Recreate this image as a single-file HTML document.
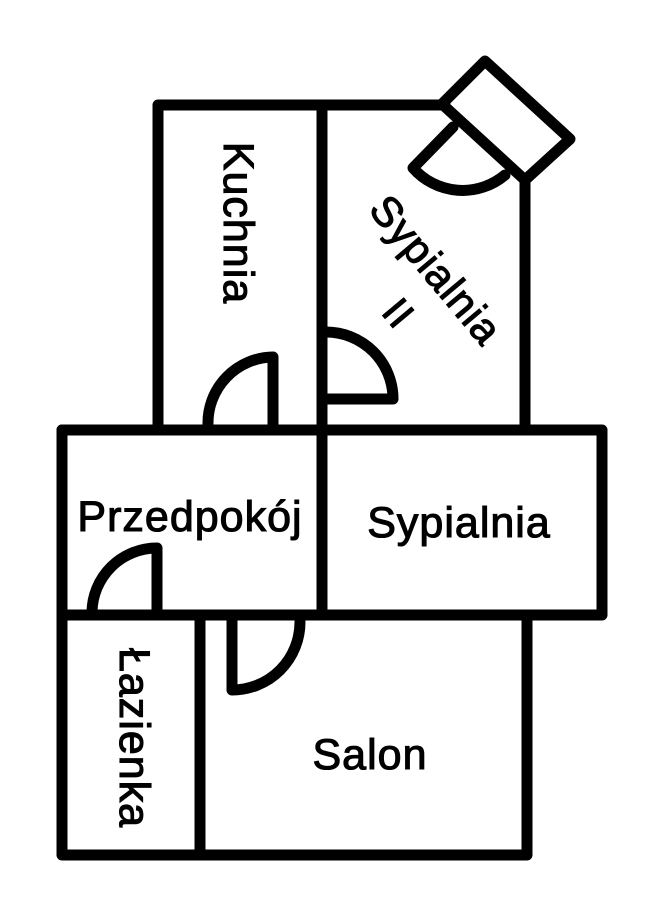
<!DOCTYPE html>
<html><head><meta charset="utf-8"><style>
html,body{margin:0;padding:0;background:#fff;}
svg{display:block;}
text{font-family:"Liberation Sans",sans-serif;fill:#000;stroke:#000;stroke-width:1.1;letter-spacing:1px;}
</style></head><body>
<svg width="659" height="901" viewBox="0 0 659 901">
<g fill="none" stroke="#000" stroke-width="11" stroke-linecap="round" stroke-linejoin="round">
<path d="M158,425 L158,105 L445,105"/>
<line x1="322" y1="105" x2="322" y2="615"/>
<line x1="525" y1="178" x2="525" y2="428"/>
<path d="M442,104 L485,61 L570,139 L525,180 Z"/>
<path d="M453,127 L413,168 A66,66 0 0 0 505,175"/>
<path d="M273,425 L273,357 A66,66 0 0 0 208,425"/>
<path d="M326,332 A67,67 0 0 1 393,399 L326,399"/>
<path d="M62,430 L602,430 L602,615 L62,615"/>
<path d="M62,430 L62,855 L527,855 L527,620"/>
<line x1="200" y1="615" x2="200" y2="855"/>
<path d="M157,612 L157,548 A65,65 0 0 0 92,612"/>
<path d="M232,620 L232,690 A68,68 0 0 0 300,622"/>
</g>
<text x="0" y="0" font-size="43" text-anchor="middle" transform="translate(224,223) rotate(90)">Kuchnia</text>
<text x="0" y="0" font-size="42" text-anchor="middle" transform="translate(425,279) rotate(50)">Sypialnia</text>
<text x="0" y="0" font-size="40" text-anchor="middle" transform="translate(388,322) rotate(50)">II</text>
<text x="190" y="531" font-size="43" text-anchor="middle">Przedpokój</text>
<text x="459" y="537" font-size="43" text-anchor="middle">Sypialnia</text>
<text x="370" y="769" font-size="43" text-anchor="middle">Salon</text>
<text x="0" y="0" font-size="43" text-anchor="middle" transform="translate(120,738) rotate(90)">Łazienka</text>
</svg>
</body></html>
